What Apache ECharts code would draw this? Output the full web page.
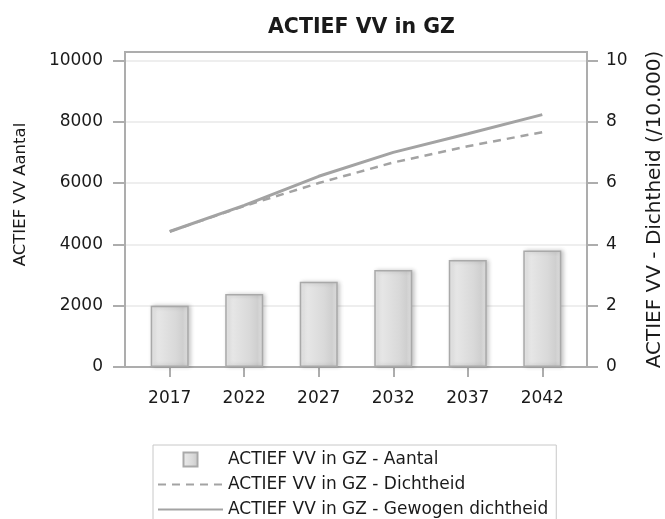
<!DOCTYPE html>
<html>
<head>
<meta charset="utf-8">
<script src="https://cdn.jsdelivr.net/npm/echarts@6/dist/echarts.min.js"></script>
<style>
html,body{margin:0;padding:0;background:#fff;}
#chartWrapper{width:665px;height:519px;}
</style>
</head>
<body>
<div id="chartWrapper"></div>
<script>
var years = [2017, 2022, 2027, 2032, 2037, 2042];
var aantal = [2000, 2380, 2780, 3160, 3490, 3800];
var dichtheid = [4.42, 5.25, 6.0, 6.67, 7.2, 7.66];
var gewogen = [4.42, 5.27, 6.22, 7.0, 7.61, 8.23];
var leftTicks = [0, 2000, 4000, 6000, 8000, 10000];
var rightTicks = [0, 2, 4, 6, 8, 10];

var chart = echarts.init(document.getElementById('chartWrapper'));

function pairs(vals){
    return years.map(function(y, i){ return [y, vals[i]]; });
}

var font = 'DejaVu Sans';
var txt = '#1a1a1a';
var axisGrey = '#adadad';
var lineGrey = '#a3a3a3';
// hide the dot ECharts puts on line legend icons
var noDot = { color: 'rgba(0,0,0,0)', borderWidth: 0 };

var option = {
    backgroundColor: '#fff',
    animation: false,
    title: {
        text: 'ACTIEF VV in GZ',
        left: 263,
        top: 12,
        textStyle: { fontFamily: font, fontSize: 20.5, fontWeight: 'bold', color: txt }
    },
    grid: {
        left: 125,
        top: 52,
        width: 462,
        height: 315,
        outerBoundsMode: 'none',
        containLabel: false,
        show: true,
        borderColor: axisGrey,
        borderWidth: 2,
        backgroundColor: '#fff'
    },
    legend: {
        orient: 'vertical',
        left: 153,
        top: 445,
        height: 120,
        padding: [6, 8, 6, 4],
        itemWidth: 65,
        itemHeight: 14,
        itemGap: 8,
        borderColor: '#c8c8c8',
        borderWidth: 1,
        textStyle: { fontFamily: font, fontSize: 17, color: txt, lineHeight: 16 },
        data: [
            { name: 'ACTIEF VV in GZ - Aantal', icon: 'path://M0,0h10v10h-10z' },
            { name: 'ACTIEF VV in GZ - Dichtheid', itemStyle: noDot },
            { name: 'ACTIEF VV in GZ - Gewogen dichtheid', itemStyle: noDot }
        ]
    },
    xAxis: {
        type: 'value',
        min: 2014,
        max: 2045,
        splitLine: { show: false },
        axisLine: { show: true, onZero: false, lineStyle: { color: axisGrey, width: 2 } },
        axisTick: { show: true, length: 10, customValues: years, lineStyle: { color: axisGrey, width: 2 } },
        axisLabel: {
            customValues: years,
            margin: 23,
            fontFamily: font, fontSize: 17, color: txt,
            formatter: function(v){ return String(v); }
        }
    },
    yAxis: [{
        type: 'value',
        min: 0,
        max: 10274,
        position: 'left',
        name: 'ACTIEF VV Aantal',
        nameLocation: 'middle',
        nameRotate: 90,
        nameGap: 96,
        nameTextStyle: { fontFamily: font, fontSize: 16.5, color: txt, padding: [0, 0, 0, 30] },
        axisLine: { show: true, lineStyle: { color: axisGrey, width: 2 } },
        axisTick: { show: true, length: 12, customValues: leftTicks, lineStyle: { color: axisGrey, width: 2 } },
        axisLabel: {
            customValues: leftTicks, margin: 22, fontFamily: font, fontSize: 17, color: txt,
            formatter: function(v){ return String(v); }
        },
        splitLine: { show: true, lineStyle: { color: '#e8e8e8', width: 1.5 } }
    }, {
        type: 'value',
        min: 0,
        max: 10.274,
        position: 'right',
        name: 'ACTIEF VV - Dichtheid (/10.000)',
        nameLocation: 'middle',
        nameRotate: 90,
        nameGap: 58,
        nameTextStyle: { fontFamily: font, fontSize: 20, color: txt },
        axisLine: { show: true, lineStyle: { color: axisGrey, width: 2 } },
        axisTick: { show: true, length: 11, customValues: rightTicks, lineStyle: { color: axisGrey, width: 2 } },
        axisLabel: { customValues: rightTicks, margin: 19, fontFamily: font, fontSize: 17, color: txt },
        splitLine: { show: false }
    }],
    series: [
        {
            name: 'ACTIEF VV in GZ - Aantal',
            type: 'bar',
            yAxisIndex: 0,
            barWidth: 38,
            data: pairs(aantal),
            itemStyle: {
                color: new echarts.graphic.LinearGradient(0, 0, 1, 0, [
                    { offset: 0, color: '#ececec' },
                    { offset: 0.65, color: '#d9d9d9' },
                    { offset: 0.85, color: '#cfcfcf' },
                    { offset: 1, color: '#e2e2e2' }
                ]),
                borderColor: '#a9a9a9',
                borderWidth: 1.5,
                shadowColor: 'rgba(0,0,0,0.2)',
                shadowBlur: 4,
                shadowOffsetX: 2
            }
        },
        {
            name: 'ACTIEF VV in GZ - Dichtheid',
            type: 'line',
            yAxisIndex: 1,
            symbol: 'none',
            data: pairs(dichtheid),
            itemStyle: { color: lineGrey },
            lineStyle: { color: lineGrey, width: 2.5, type: [8, 6] }
        },
        {
            name: 'ACTIEF VV in GZ - Gewogen dichtheid',
            type: 'line',
            yAxisIndex: 1,
            symbol: 'none',
            data: pairs(gewogen),
            itemStyle: { color: lineGrey },
            lineStyle: { color: lineGrey, width: 3 }
        }
    ]
};

chart.setOption(option);
</script>
</body>
</html>
